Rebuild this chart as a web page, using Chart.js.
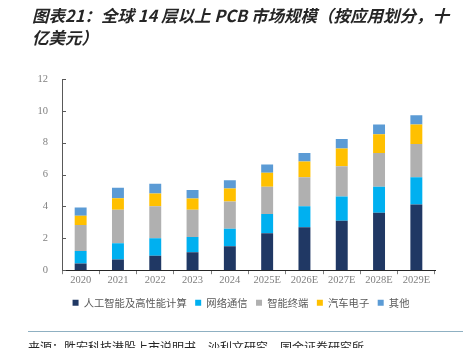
<!DOCTYPE html>
<html>
<head>
<meta charset="utf-8">
<script src="https://cdn.jsdelivr.net/npm/chart.js@4.4.1/dist/chart.umd.min.js"></script>
<style>
  html, body { margin: 0; padding: 0; background: #fff; width: 463px; height: 348px; overflow: hidden; }
  #wrap { position: relative; width: 463px; height: 348px; }
  #c { position: absolute; left: 0; top: 0; }
  #title { position: absolute; left: 32px; top: 4px; font-family: "Noto Sans CJK SC", sans-serif; font-weight: bold; font-style: italic; font-size: 16.5px; line-height: 22px; color: #262626; white-space: nowrap; }
  #rule { position: absolute; left: 28px; top: 331px; width: 435px; height: 0; border-top: 1.5px solid #8FB0C2; }
  #source { position: absolute; left: 28px; top: 340px; font-family: "Noto Sans CJK SC", sans-serif; font-size: 12px; line-height: 14px; color: #262626; white-space: nowrap; }
</style>
</head>
<body>
<div id="wrap">
  <canvas id="c" width="463" height="348"></canvas>
  <div id="title">图表21：全球 14 层以上 PCB 市场规模（按应用划分，十<br>亿美元）</div>
  <div id="rule"></div>
  <div id="source">来源：胜宏科技港股上市说明书，沙利文研究，国金证券研究所</div>
</div>
<script>
const categories = ["2020", "2021", "2022", "2023", "2024", "2025E", "2026E", "2027E", "2028E", "2029E"];
const seriesNames = ["人工智能及高性能计算", "网络通信", "智能终端", "汽车电子", "其他"];
const aiHpc      = [0.42, 0.67, 0.91, 1.12, 1.50, 2.32, 2.70, 3.11, 3.61, 4.12];
const network    = [0.78, 1.02, 1.09, 0.97, 1.10, 1.20, 1.31, 1.52, 1.62, 1.71];
const terminals  = [1.63, 2.11, 2.01, 1.71, 1.71, 1.71, 1.82, 1.90, 2.12, 2.09];
const automotive = [0.59, 0.72, 0.81, 0.70, 0.82, 0.89, 0.99, 1.11, 1.18, 1.22];
const others     = [0.51, 0.65, 0.60, 0.53, 0.51, 0.51, 0.53, 0.60, 0.61, 0.59];
const yTicks = [0, 2, 4, 6, 8, 10, 12];

const colors = ["#203864", "#00B0F0", "#B0B0B0", "#FFC000", "#5B9BD5"];
const values = [aiHpc, network, terminals, automotive, others];

const innerYTicks = {
  id: 'innerYTicks',
  afterDraw(chart) {
    const y = chart.scales.y;
    const ctx = chart.ctx;
    ctx.save();
    ctx.strokeStyle = '#595959';
    ctx.lineWidth = 1;
    yTicks.forEach(v => {
      const py = Math.round(y.getPixelForValue(v)) + 0.5;
      ctx.beginPath();
      ctx.moveTo(y.right, py);
      ctx.lineTo(y.right + 4, py);
      ctx.stroke();
    });
    ctx.restore();
  }
};

// centre the legend under the plot area (as in the reference) rather than the whole canvas
const legendShift = {
  id: 'legendShift',
  afterLayout(chart) {
    if (chart.legend) {
      chart.legend.left += 47;
    }
  }
};

new Chart(document.getElementById('c'), {
  type: 'bar',
  data: {
    labels: categories,
    datasets: seriesNames.map((n, i) => ({
      label: n,
      data: values[i],
      backgroundColor: colors[i],
      borderWidth: 0,
      barPercentage: 0.32,
      categoryPercentage: 1.0
    }))
  },
  options: {
    responsive: false,
    animation: false,
    devicePixelRatio: 1,
    layout: { padding: { left: 0, right: 28, top: 79, bottom: 30 } },
    plugins: {
      tooltip: { enabled: false },
      legend: {
        position: 'bottom',
        labels: {
          boxWidth: 6, boxHeight: 6,
          padding: 8.5,
          color: '#595959',
          font: { family: '"Noto Sans CJK SC", sans-serif', size: 10.3 }
        }
      }
    },
    scales: {
      x: {
        stacked: true,
        offset: true,
        grid: { display: true, drawOnChartArea: false, offset: true, tickLength: 4, color: '#808080' },
        border: { display: true, color: '#262626', width: 1 },
        ticks: { color: '#808080', padding: 0, font: { family: '"Liberation Serif", serif', size: 10.5 } },
        afterFit(s) { s.height = 19; }
      },
      y: {
        stacked: true,
        min: 0, max: 12,
        grid: { display: false, drawTicks: false },
        border: { display: true, color: '#595959', width: 1 },
        ticks: { stepSize: 2, color: '#808080', padding: 14, font: { family: '"Liberation Serif", serif', size: 10.5 } },
        afterFit(s) { s.width = 62; }
      }
    }
  },
  plugins: [innerYTicks, legendShift]
});
</script>
</body>
</html>
